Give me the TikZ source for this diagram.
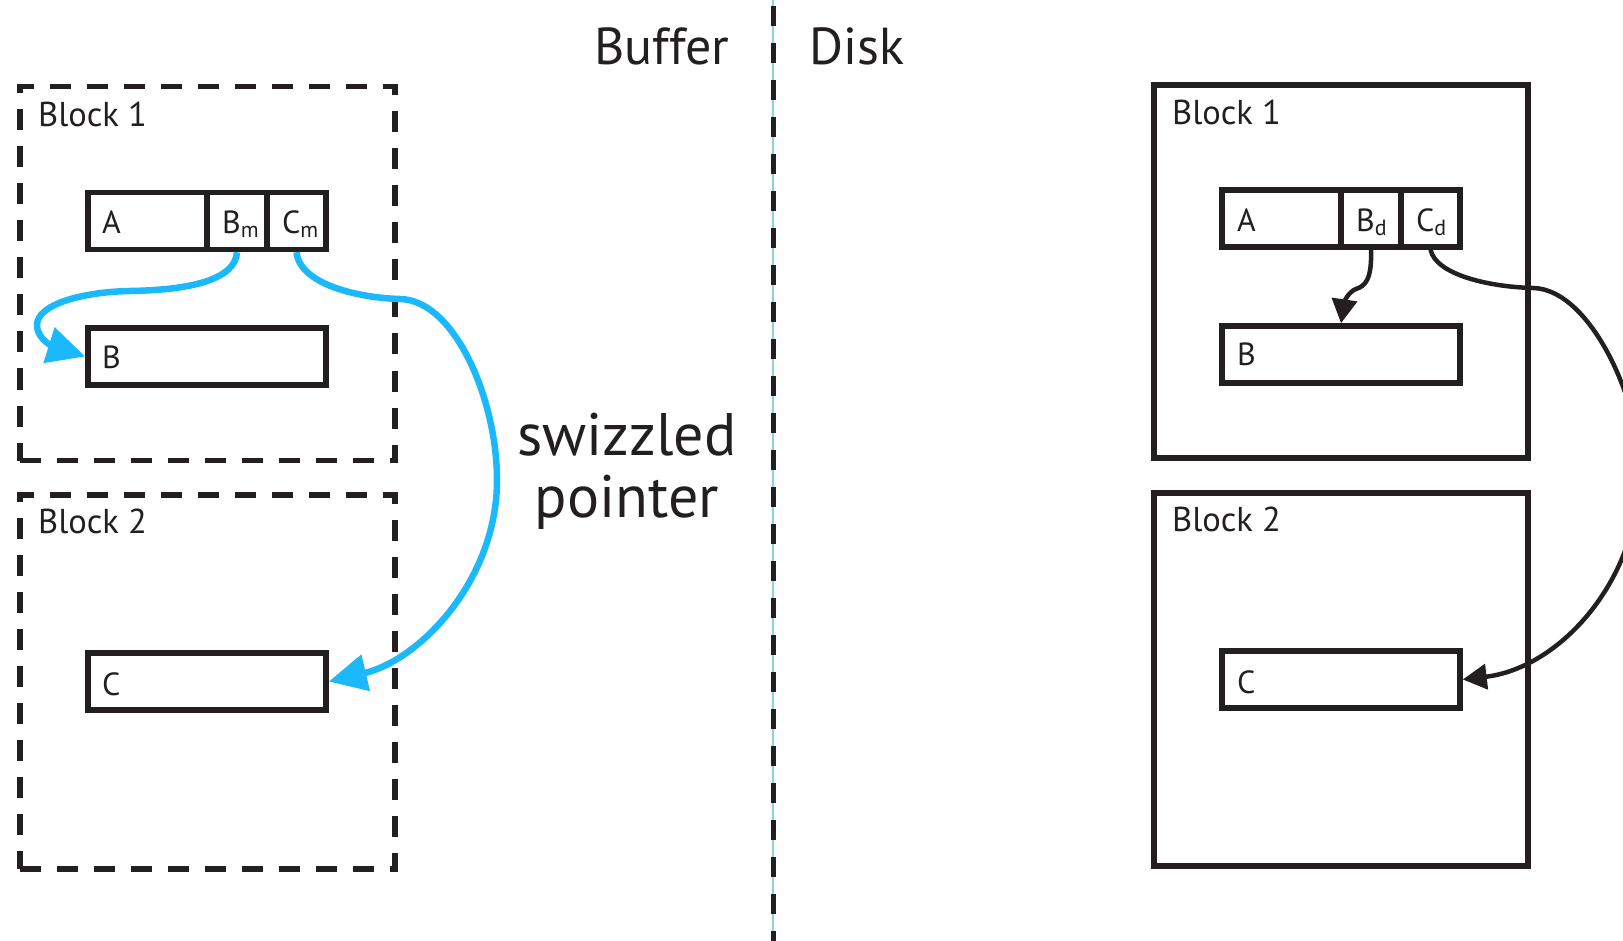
\documentclass[tikz,border=0pt]{standalone}
\usepackage{fontspec}
\setmainfont{PT Sans}
\usetikzlibrary{arrows.meta}
\definecolor{ink}{RGB}{35,31,32}
\definecolor{swz}{RGB}{27,185,252}
\definecolor{guide}{RGB}{140,210,225}
\newcommand\fsBlock{\fontsize{34.5}{40}\selectfont}
\newcommand\fsCell{\fontsize{32}{36}\selectfont}
\newcommand\fsSubl{\fontsize{22}{24}\selectfont}
\newcommand\fsHead{\fontsize{52}{60}\selectfont}
\newcommand\fsSw{\fontsize{60}{68}\selectfont}
\newcommand\subl[1]{\raisebox{-4pt}{\fsSubl #1}}
\begin{document}
\begin{tikzpicture}[x=1pt,y=-1pt,
  box/.style={draw=ink, line width=5.5pt, inner sep=0pt, minimum height=57pt},
  dblock/.style={draw=ink, line width=5.5pt, dash pattern=on 21pt off 16pt, inner sep=0pt, minimum width=375pt, minimum height=374pt},
  sblock/.style={draw=ink, line width=5.5pt, inner sep=0pt, minimum width=374pt, minimum height=373pt},
  lbl/.style={anchor=base west, text=ink, inner sep=0pt},
  swzarrow/.style={swz, line width=6.5pt, -{Triangle[length=38pt,width=36pt]}},
  diskarrow/.style={ink, line width=4.5pt, -{Triangle[length=24pt,width=25pt]}}
]
\useasboundingbox (0,0) rectangle (1623,941);
\clip (0,0) rectangle (1623,941);

% divider
\coordinate (dtop) at (773,0);
\coordinate (dbot) at (773,941);
\draw[guide, line width=1.5pt] (dtop) -- (dbot);
\draw[ink, line width=5pt, dash pattern=on 20pt off 17pt, dash phase=-6pt] (dtop) -- (dbot);

\node[lbl, font=\fsHead] (buf) at (594,65) {Buffer};
\node[lbl, font=\fsHead] (disk) at (809,65) {Disk};
\node[anchor=base, text=ink, inner sep=0pt, font=\fsSw] (sw1) at (627,455) {swizzled};
\node[anchor=base, text=ink, inner sep=0pt, font=\fsSw] (sw2) at (627,517) {pointer};

% ---- Buffer side
\node[dblock] (lb1) at (207.5,273.5) {};
\node[dblock] (lb2) at (207.5,682) {};
\node[lbl, font=\fsBlock] at (38,127) {Block 1};
\node[lbl, font=\fsBlock] at (38,533) {Block 2};

\node[box, minimum width=119pt] (lA) at (147.5,221) {};
\node[box, minimum width=60pt] (lBm) at (237,221) {};
\node[box, minimum width=59pt] (lCm) at (296.5,221) {};
\node[box, minimum width=238pt] (lB) at (207,356.5) {};
\node[box, minimum width=238pt] (lC) at (207,681.5) {};
\node[lbl, font=\fsCell] at (102,234) {A};
\node[lbl, font=\fsCell] at (222,234) {B\subl{m}};
\node[lbl, font=\fsCell] at (282,234) {C\subl{m}};
\node[lbl, font=\fsCell] at (102,369) {B};
\node[lbl, font=\fsCell] at (102,695) {C};

\draw[swzarrow] (lBm.south) .. controls (235,280) and (190,290) .. (130,291)
  .. controls (80,292) and (37,305) .. (37,325)
  .. controls (37,340) and (55,347) .. (lB.west);
\draw[swzarrow] (lCm.south) .. controls (300,285) and (360,298) .. (400,299)
  .. controls (455,300) and (497,400) .. (497,480)
  .. controls (497,580) and (420,660) .. (lC.east);

% ---- Disk side
\node[sblock] (rb1) at (1341,271.5) {};
\node[sblock] (rb2) at (1341,679.5) {};
\node[lbl, font=\fsBlock] at (1172,125) {Block 1};
\node[lbl, font=\fsBlock] at (1172,531) {Block 2};

\node[box, minimum width=119pt] (rA) at (1281.5,218.5) {};
\node[box, minimum width=60pt] (rBd) at (1371,218.5) {};
\node[box, minimum width=59pt] (rCd) at (1430.5,218.5) {};
\node[box, minimum width=238pt] (rB) at (1341,354.5) {};
\node[box, minimum width=238pt] (rC) at (1341,679.5) {};
\node[lbl, font=\fsCell] at (1237,232) {A};
\node[lbl, font=\fsCell] at (1356,232) {B\subl{d}};
\node[lbl, font=\fsCell] at (1416,232) {C\subl{d}};
\node[lbl, font=\fsCell] at (1237,366) {B};
\node[lbl, font=\fsCell] at (1237,693) {C};

\draw[diskarrow] (rBd.south) .. controls (1372,280) and (1365,286) .. (1356,289)
  .. controls (1348,292) and (1344,303) .. (rB.north);
\draw[diskarrow] (rCd.south) .. controls (1436,275) and (1490,287) .. (1533,288)
  .. controls (1590,289) and (1640,400) .. (1640,470)
  .. controls (1640,580) and (1560,668) .. (rC.east);
\end{tikzpicture}
\end{document}
